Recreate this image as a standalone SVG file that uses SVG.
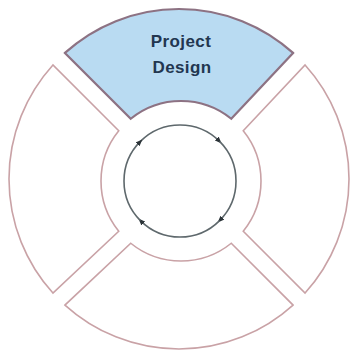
<svg xmlns="http://www.w3.org/2000/svg" width="351" height="352" viewBox="0 0 351 352">
  <defs>
    <style>
      .seg { fill: #ffffff; stroke: #c9a2a6; stroke-width: 1.6; stroke-linejoin: miter; }
      .seg.active { fill: #b9dbf2; stroke: #8d7283; stroke-width: 2.2; }
      .label { font-family: "Liberation Sans", Arial, sans-serif; font-weight: bold; font-size: 17px; fill: #223650; text-anchor: middle; letter-spacing: 0.4px; }
      .cycle { fill: none; stroke: #5e686c; stroke-width: 1.6; }
    </style>
    <marker id="arrow" viewBox="0 0 10 10" refX="6" refY="5" markerWidth="7" markerHeight="7" markerUnits="userSpaceOnUse" orient="auto">
      <path d="M0,1 L10,5 L0,9 Z" fill="#2b3338"/>
    </marker>
  </defs>
  <rect width="351" height="352" fill="#ffffff"/>
  <g id="node-top">
    <path class="seg active" d="M64.94,52.94 A170,170 0 0 1 293.06,52.94 L231.25,118.75 A80,80 0 0 0 130.75,118.75 Z"/>
    <text class="label" x="181" y="47">Project</text>
    <text class="label" x="182" y="73">Design</text>
  </g>
  <g id="node-right">
    <path class="seg" d="M305.06,64.94 A170,170 0 0 1 305.06,293.06 L243.25,231.25 A80,80 0 0 0 243.25,130.75 Z"/>
  </g>
  <g id="node-bottom">
    <path class="seg" d="M293.06,305.06 A170,170 0 0 1 64.94,305.06 L130.75,243.25 A80,80 0 0 0 231.25,243.25 Z"/>
  </g>
  <g id="node-left">
    <path class="seg" d="M52.94,293.06 A170,170 0 0 1 52.94,64.94 L118.75,130.75 A80,80 0 0 0 118.75,231.25 Z"/>
  </g>
  <g id="connectors">
    <path class="cycle" marker-end="url(#arrow)" d="M140.4,141.4 A56,56 0 0 1 219.6,141.4"/>
    <path class="cycle" marker-end="url(#arrow)" d="M219.6,141.4 A56,56 0 0 1 219.6,220.6"/>
    <path class="cycle" marker-end="url(#arrow)" d="M219.6,220.6 A56,56 0 0 1 140.4,220.6"/>
    <path class="cycle" marker-end="url(#arrow)" d="M140.4,220.6 A56,56 0 0 1 140.4,141.4"/>
  </g>
</svg>
